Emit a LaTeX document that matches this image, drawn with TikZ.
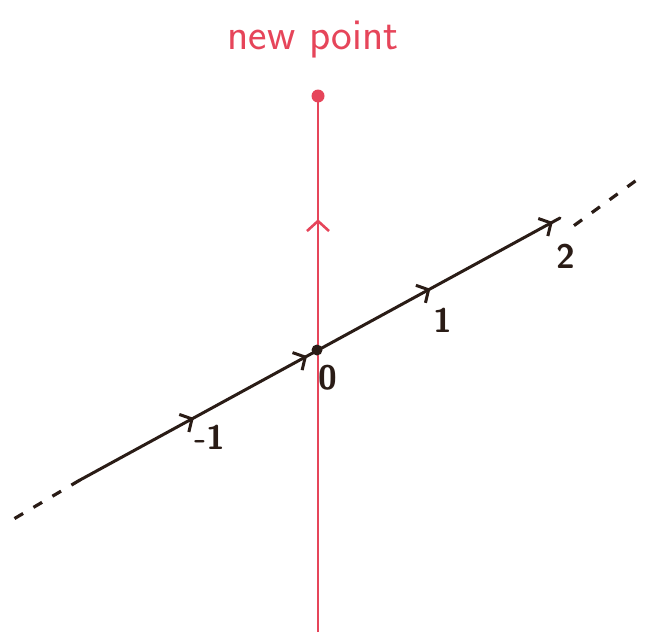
\documentclass[tikz,border=0pt]{standalone}
\usetikzlibrary{arrows.meta,decorations.markings}
\definecolor{pen}{HTML}{2A1C16}
\definecolor{redpen}{HTML}{E6455A}
\begin{document}
\begin{tikzpicture}[x=1pt,y=-1pt,
  blackline/.style={draw=pen,line width=3pt,line cap=round},
  dashpart/.style={draw=pen,line width=3.2pt,dash pattern=on 10pt off 12pt},
  redline/.style={draw=redpen,line width=2.2pt},
  lbl/.style={text=pen,font=\sffamily\bfseries\fontsize{34}{34}\selectfont}]
\useasboundingbox (0,0) rectangle (647,632);
% coordinates
\coordinate (O) at (317,350);
\coordinate (L) at (80,480);
\coordinate (R) at (560,218);
\coordinate (LL) at (12,520);
\coordinate (RR) at (645,174);
\coordinate (B) at (318,632);
\coordinate (N) at (318,96);
% red vertical line
\draw[redline,postaction={decorate,decoration={markings,
   mark=at position 0.77 with {\arrow[redpen]{Straight Barb[length=10pt,width=22pt,line width=2.6pt]}}}}] (B) -- (N);
\fill[redpen] (N) circle (6.5);
% black line
\draw[blackline,postaction={decorate,decoration={markings,
   mark=at position 0.237 with {\arrow[pen]{Straight Barb[length=9pt,width=20pt,line width=3pt]}},
   mark=at position 0.473 with {\arrow[pen]{Straight Barb[length=9pt,width=20pt,line width=3pt]}},
   mark=at position 0.73 with {\arrow[pen]{Straight Barb[length=9pt,width=20pt,line width=3pt]}},
   mark=at position 0.985 with {\arrow[pen]{Straight Barb[length=9pt,width=20pt,line width=3pt]}}}}] (L) -- (R);
\draw[dashpart] (L) -- (LL);
\draw[dashpart] ([xshift=14pt,yshift=-7.6pt]R) -- (RR);
\fill[pen] (O) circle (5.5);
% labels
\node[lbl] (m1) at (210,437) {-1};
\node[lbl] (z) at (328,378) {0};
\node[lbl] (o1) at (443,320) {1};
\node[lbl] (t2) at (566,256) {2};
\node[text=redpen,font=\sffamily\fontsize{44}{44}\selectfont] (np) at (313,40) {new point};
\end{tikzpicture}
\end{document}
